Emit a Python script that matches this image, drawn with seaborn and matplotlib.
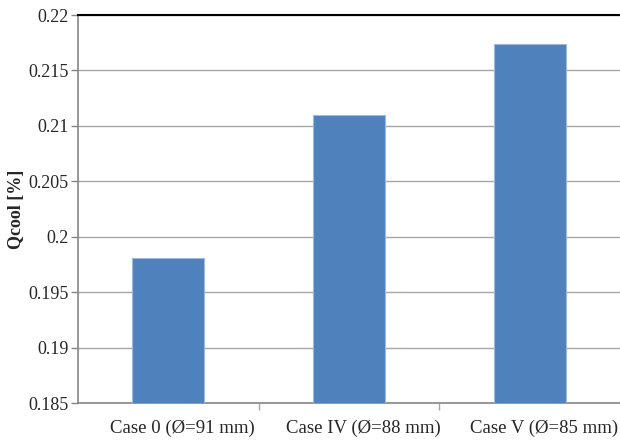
import pandas as pd
import matplotlib.pyplot as plt
import matplotlib.transforms as mtransforms
import seaborn as sns

# Data
cases = ['Case 0 (Ø=91 mm)', 'Case IV (Ø=88 mm)', 'Case V (Ø=85 mm)']
qcool = [0.1981, 0.2110, 0.2174]
y_ticks = [0.185, 0.19, 0.195, 0.2, 0.205, 0.21, 0.215, 0.22]
y_labels = ['0.185', '0.19', '0.195', '0.2', '0.205', '0.21', '0.215', '0.22']

df = pd.DataFrame({'Case': cases, 'Qcool': qcool})

sns.set_style('white')
plt.rcParams['font.family'] = ['Liberation Serif', 'DejaVu Serif']
plt.rcParams['xtick.bottom'] = True
plt.rcParams['ytick.left'] = True

fig = plt.figure(figsize=(6.2, 4.42), dpi=100)
ax = fig.add_axes([0.1258, 0.0882, 0.8742, 0.8778])

sns.barplot(data=df, x='Case', y='Qcool', color='#4F81BD', width=0.4,
            edgecolor='#9DB9DE', linewidth=0.8, saturation=1, ax=ax, zorder=3)

ax.set_ylim(0.185, 0.22)
ax.set_xlim(-0.5, 2.5)
ax.set_yticks(y_ticks)
ax.set_yticklabels(y_labels)
ax.yaxis.grid(True, color='#A6A6A6', linewidth=1.0, zorder=0)
ax.set_axisbelow(True)

# tick marks between categories
ax.set_xticks([0.5, 1.5], minor=True)
ax.tick_params(axis='x', which='major', bottom=True, length=0, pad=12, labelsize=13.5)
ax.tick_params(axis='x', which='minor', bottom=True, length=5, color='#A6A6A6', width=1)
ax.tick_params(axis='y', left=True, length=5, color='#868686', width=1, labelsize=13, pad=2)

# category labels sit a bit right of the bar centres in the original
shift = mtransforms.ScaledTranslation(0.14, 0, fig.dpi_scale_trans)
for lbl in ax.get_xticklabels():
    lbl.set_transform(lbl.get_transform() + shift)

ax.spines['right'].set_visible(False)
ax.spines['top'].set_color('black')
ax.spines['top'].set_linewidth(1.5)
ax.spines['left'].set_color('#868686')
ax.spines['bottom'].set_color('#868686')
ax.spines['left'].set_linewidth(1.2)
ax.spines['bottom'].set_linewidth(1.2)

ax.set_xlabel('')
ax.set_ylabel('Qcool [%]', fontsize=13, fontweight='bold', labelpad=2)

fig.savefig('out.png', dpi=100)
